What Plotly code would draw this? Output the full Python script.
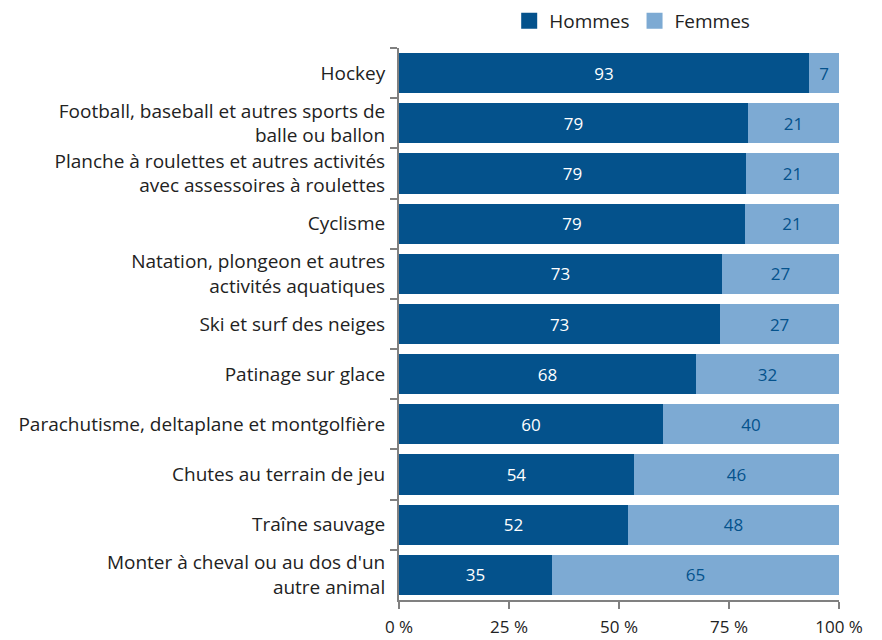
import plotly.graph_objects as go

categories = [
    "Hockey",
    "Football, baseball et autres sports de<br>balle ou ballon",
    "Planche à roulettes et autres activités<br>avec assessoires à roulettes",
    "Cyclisme",
    "Natation, plongeon et autres<br>activités aquatiques",
    "Ski et surf des neiges",
    "Patinage sur glace",
    "Parachutisme, deltaplane et montgolfière",
    "Chutes au terrain de jeu",
    "Traîne sauvage",
    "Monter à cheval ou au dos d'un<br>autre animal",
]
hommes = [93.2, 79.3, 78.9, 78.6, 73.4, 73.0, 67.5, 60.0, 53.4, 52.0, 34.8]
femmes = [6.8, 20.7, 21.1, 21.4, 26.6, 27.0, 32.5, 40.0, 46.6, 48.0, 65.2]
hommes_labels = ["93", "79", "79", "79", "73", "73", "68", "60", "54", "52", "35"]
femmes_labels = ["7", "21", "21", "21", "27", "27", "32", "40", "46", "48", "65"]
tick_vals = [0, 25, 50, 75, 100]
tick_labels = ["0 %", "25 %", "50 %", "75 %", "100 %"]

DARK = "#04528C"
LIGHT = "#7DAAD3"
FONT = "Open Sans"

fig = go.Figure()
fig.add_trace(go.Bar(
    y=categories, x=hommes, name="Hommes", orientation="h",
    marker=dict(color=DARK, line=dict(width=0)),
    text=hommes_labels, textposition="inside", insidetextanchor="middle",
    textfont=dict(color="white", size=17, family=FONT), textangle=0,
    hoverinfo="x+y", showlegend=False,
))
fig.add_trace(go.Bar(
    y=categories, x=femmes, name="Femmes", orientation="h",
    marker=dict(color=LIGHT, line=dict(width=0)),
    text=femmes_labels, textposition="inside", insidetextanchor="middle",
    textfont=dict(color=DARK, size=17, family=FONT), textangle=0,
    hoverinfo="x+y", showlegend=False,
))
# legend entries with larger square swatches
for name, col in [("Hommes", DARK), ("Femmes", LIGHT)]:
    fig.add_trace(go.Scatter(
        x=[None], y=[None], mode="markers", name=name,
        marker=dict(symbol="square", size=16, color=col), showlegend=True,
    ))

fig.update_layout(
    width=882, height=640,
    barmode="stack", bargap=0.2,
    plot_bgcolor="white", paper_bgcolor="white",
    margin=dict(l=391, r=51, t=40, b=48, autoexpand=False),
    font=dict(family=FONT, size=19, color="#222222"),
    uniformtext=dict(mode=False),
    legend=dict(orientation="h", x=0.53, xanchor="center",
                yref="paper", y=1.0489, yanchor="middle",
                font=dict(size=19, family=FONT), traceorder="normal",
                itemwidth=30, tracegroupgap=0),
    xaxis=dict(range=[0, 100], tickvals=tick_vals, ticktext=tick_labels,
               showgrid=False, zeroline=False, showline=True, linecolor="#808080",
               linewidth=2, ticks="outside", ticklen=7, tickcolor="#808080", tickwidth=2,
               ticklabelstandoff=4, automargin=False,
               tickfont=dict(size=17, family=FONT, color="#222222"), fixedrange=True),
    yaxis=dict(autorange="reversed", showgrid=False, showline=True, linecolor="#808080",
               linewidth=2, ticks="outside", ticklen=7, tickcolor="#808080", tickwidth=2,
               tickson="boundaries", ticklabelstandoff=8, automargin=False,
               tickfont=dict(size=19, family=FONT, color="#222222")),
)

fig.write_html("out.html")
